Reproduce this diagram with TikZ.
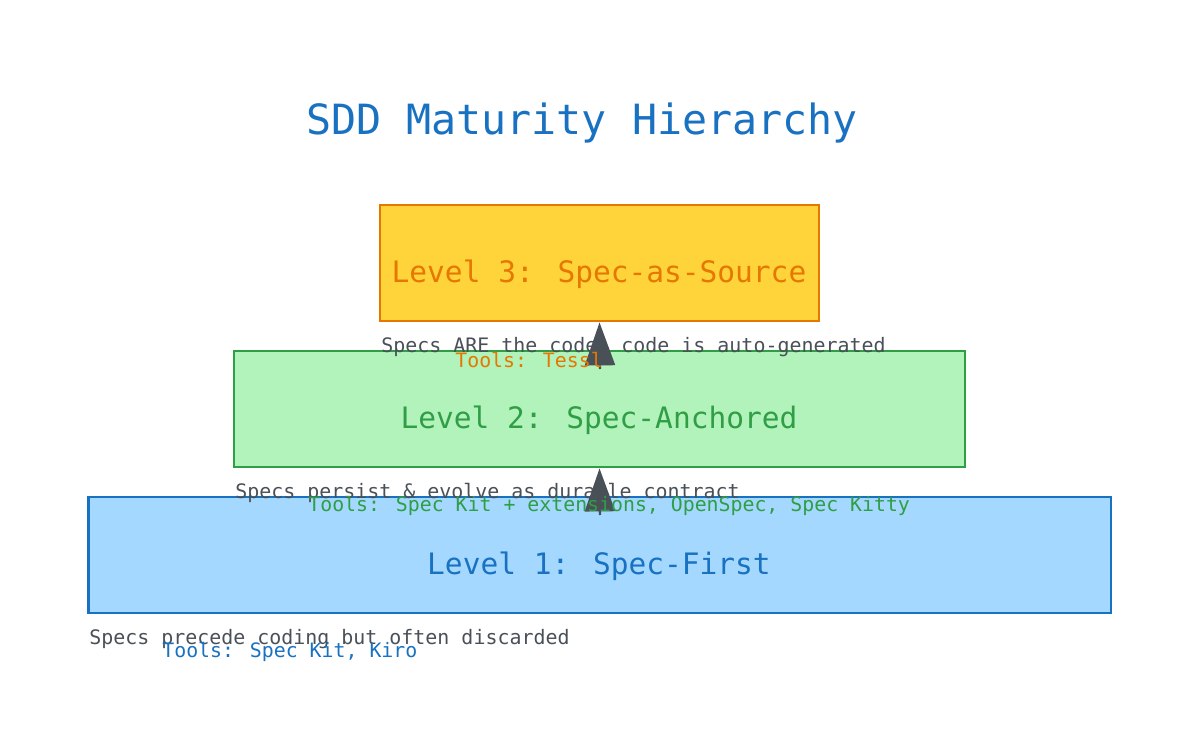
\documentclass[tikz,border=0pt]{standalone}
\usepackage{fontspec}
\setmainfont{DejaVu Sans Mono}
\usepackage{tikz}
\usetikzlibrary{arrows.meta,positioning}

\definecolor{goldfill}{HTML}{FFD43B}
\definecolor{orangeline}{HTML}{E67700}
\definecolor{greenfill}{HTML}{B2F2BB}
\definecolor{greenline}{HTML}{2F9E44}
\definecolor{bluefill}{HTML}{A5D8FF}
\definecolor{blueline}{HTML}{1971C2}
\definecolor{greytext}{HTML}{495057}

\tikzset{
  levelbox/.style={draw,line width=1.6pt,minimum height=2.32cm,inner sep=0pt},
  leveltext/.style={font=\fontsize{16.8}{20}\selectfont,inner sep=0pt},
  desctext/.style={font=\fontsize{11.35}{13}\selectfont,text=greytext,anchor=west,inner sep=0pt},
  toolstext/.style={font=\fontsize{11.3}{13}\selectfont,anchor=west,inner sep=0pt},
  uparrow/.style={draw=greytext,line width=1.4pt,-{Triangle[length=0.86cm,width=0.6cm]}}
}

\begin{document}
\begin{tikzpicture}[x=0.02cm,y=-0.02cm]
      \useasboundingbox (0,0) rectangle (1200,750);

      \coordinate (A) at (599.5,263);
      \coordinate (B) at (599.5,409);
      \coordinate (C) at (599.5,555);

      \node[font=\fontsize{23.7}{28}\selectfont,text=blueline] (title) at (582,123) {SDD Maturity Hierarchy};

      \node[levelbox,fill=goldfill,draw=orangeline,minimum width=8.78cm] (lthree) at (A) {};
      \node[levelbox,fill=greenfill,draw=greenline,minimum width=14.62cm] (ltwo) at (B) {};
      \node[levelbox,fill=bluefill,draw=blueline,minimum width=20.46cm] (lone) at (C) {};

      \node[leveltext,text=orangeline] (tthree) at (599,274) {Level 3: Spec-as-Source};
      \node[leveltext,text=greenline] (ttwo) at (599,420) {Level 2: Spec-Anchored};
      \node[leveltext,text=blueline] (tone) at (599,566) {Level 1: Spec-First};

      \node[desctext] (dthree) at (381,347) {Specs ARE the code, code is auto-generated};
      \node[desctext] (dtwo) at (235,493) {Specs persist \& evolve as durable contract};
      \node[desctext] (done) at (89,639) {Specs precede coding but often discarded};

      % arrows between the levels
      \coordinate (sthree) at (600,369);
      \coordinate (stwo) at (600,515);
      \draw[uparrow] (sthree) -- (lthree.south);
      \draw[uparrow] (stwo) -- (ltwo.south);

      \node[toolstext,text=orangeline] (uthree) at (455,360) {Tools: Tessl};
      \node[toolstext,text=greenline] (utwo) at (308,506) {Tools: Spec Kit + extensions, OpenSpec, Spec Kitty};
      \node[toolstext,text=blueline] (uone) at (162,652) {Tools: Spec Kit, Kiro};

\end{tikzpicture}
\end{document}
